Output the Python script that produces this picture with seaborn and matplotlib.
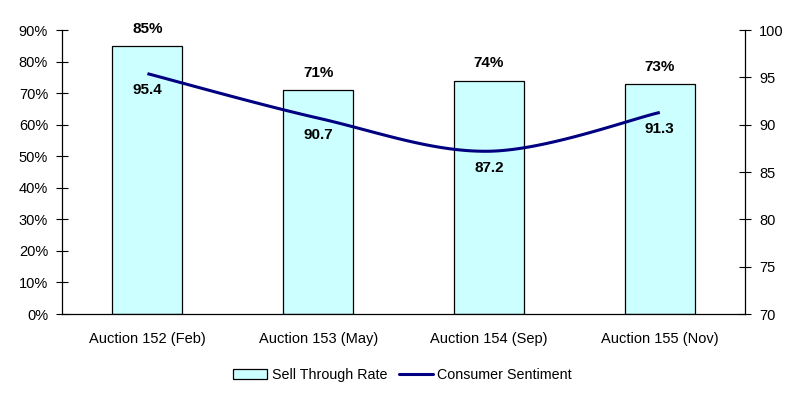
import numpy as np
import pandas as pd
import matplotlib
matplotlib.use("Agg")
import matplotlib.pyplot as plt
import seaborn as sns
from matplotlib.patches import Patch
from matplotlib.lines import Line2D

# Datos
subastas = ["Auction 152 (Feb)", "Auction 153 (May)", "Auction 154 (Sep)", "Auction 155 (Nov)"]
sell_through = [85, 71, 74, 73]          # %
sentimiento = [95.4, 90.7, 87.2, 91.3]

color_barra = "#CCFFFF"
color_linea = "#000080"

sns.set_style("white")
plt.rcParams["font.family"] = ["Liberation Sans", "DejaVu Sans"]
plt.rcParams["text.color"] = "black"
plt.rcParams["xtick.color"] = "black"
plt.rcParams["ytick.color"] = "black"

df = pd.DataFrame({"Subasta": subastas, "Sell": sell_through, "Sent": sentimiento})

fig = plt.figure(figsize=(8, 3.96), dpi=100)
ax = fig.add_axes([0.0775, 0.207, 0.854, 0.717])

sns.barplot(data=df, x="Subasta", y="Sell", color=color_barra, edgecolor="black",
            linewidth=0.9, width=0.41, saturation=1, ax=ax)
ax.set_ylim(0, 90)
ax.set_xlim(-0.5, len(subastas) - 0.5)
ax.set_yticks(range(0, 91, 10))
ax.set_yticklabels([f"{v}%" for v in range(0, 91, 10)], fontsize=10.5)
ax.set_xlabel("")
ax.set_ylabel("")
ax.tick_params(axis="x", length=0, labelsize=10.5, pad=13)
ax.set_xticks(np.arange(-0.5, len(subastas), 1.0), minor=True)
ax.tick_params(axis="x", which="minor", length=5, direction="out", color="black")
ax.tick_params(axis="y", length=8, direction="inout", color="black", pad=6)
for s in ["left", "bottom"]:
    ax.spines[s].set_color("black")
    ax.spines[s].set_linewidth(0.9)
ax.spines["top"].set_visible(False)
ax.spines["right"].set_visible(False)

for i, v in enumerate(sell_through):
    ax.text(i, v + 3.2, f"{v}%", ha="center", va="bottom", fontsize=11, fontweight="bold")

# Eje derecho: sentimiento del consumidor con linea suavizada
ax2 = ax.twinx()
ax2.set_ylim(70, 100)
ax2.set_yticks(range(70, 101, 5))
ax2.tick_params(axis="y", length=8, direction="inout", color="black", labelsize=10.5, pad=6)
for s in ["left", "top", "bottom"]:
    ax2.spines[s].set_visible(False)
ax2.spines["right"].set_color("black")
ax2.spines["right"].set_linewidth(0.9)

# Catmull-Rom para suavizar como Excel
xs = np.arange(len(sentimiento), dtype=float)
ys = np.array(sentimiento)
px = np.concatenate([[xs[0]], xs, [xs[-1]]])
py = np.concatenate([[ys[0]], ys, [ys[-1]]])
cx, cy = [], []
t = np.linspace(0, 1, 40)
for k in range(1, len(px) - 2):
    p0, p1, p2, p3 = [np.array([px[j], py[j]]) for j in (k - 1, k, k + 1, k + 2)]
    m1 = (p2 - p0) / 2
    m2 = (p3 - p1) / 2
    h00 = 2 * t**3 - 3 * t**2 + 1
    h10 = t**3 - 2 * t**2 + t
    h01 = -2 * t**3 + 3 * t**2
    h11 = t**3 - t**2
    seg = (np.outer(h00, p1) + np.outer(h10, m1) + np.outer(h01, p2) + np.outer(h11, m2))
    cx.extend(seg[:, 0])
    cy.extend(seg[:, 1])
ax2.plot(cx, cy, color=color_linea, linewidth=2.2, solid_capstyle="butt")

for i, v in enumerate(sentimiento):
    ax2.text(i, v - 1.0, f"{v}", ha="center", va="top", fontsize=11, fontweight="bold")

handles = [Patch(facecolor=color_barra, edgecolor="black", linewidth=0.9, label="Sell Through Rate"),
           Line2D([0], [0], color=color_linea, linewidth=2.2, label="Consumer Sentiment")]
fig.legend(handles=handles, loc="center", bbox_to_anchor=(0.503, 0.053), ncol=2, frameon=False,
           fontsize=10.3, handlelength=2.4, handleheight=0.6, columnspacing=0.8, handletextpad=0.3)

fig.savefig("out.png", dpi=100, facecolor="white")
